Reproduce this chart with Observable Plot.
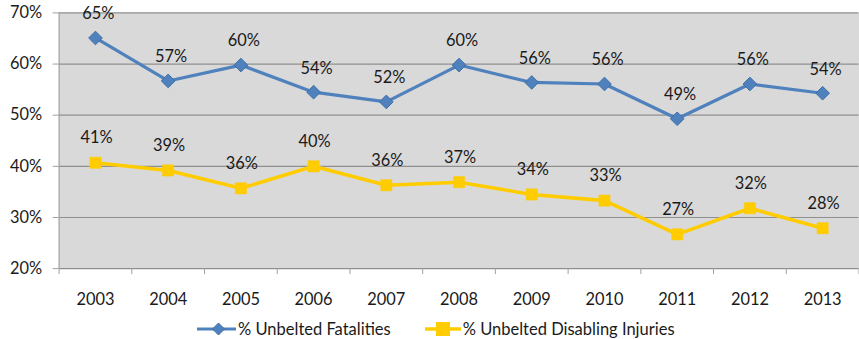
<!DOCTYPE html>
<html>
<head>
<meta charset="utf-8">
<script src="https://cdn.jsdelivr.net/npm/d3@7"></script>
<script src="https://cdn.jsdelivr.net/npm/@observablehq/plot@0.6"></script>
<style>
  html, body { margin: 0; padding: 0; background: #fff; overflow: hidden; }
  #wrap { position: relative; width: 859px; height: 339px; overflow: hidden; font-family: Lato, "Open Sans", sans-serif; }
  #legend { position: absolute; left: 0; top: 317px; height: 24px; display: flex; align-items: center; font-size: 16.5px; color: #1a1a1a; }
  .item { display: flex; align-items: center; }
  .item svg { display: block; }
</style>
</head>
<body>
<div id="wrap"><div id="chart"></div><div id="legend"></div></div>
<script>
const years = [2003, 2004, 2005, 2006, 2007, 2008, 2009, 2010, 2011, 2012, 2013];
const fatalities = [65.1, 56.7, 59.8, 54.5, 52.6, 59.8, 56.4, 56.1, 49.3, 56.1, 54.3];
const injuries = [40.7, 39.2, 35.7, 40.0, 36.3, 36.9, 34.5, 33.3, 26.7, 31.8, 27.9];
const fatalityLabels = ["65%", "57%", "60%", "54%", "52%", "60%", "56%", "56%", "49%", "56%", "54%"];
const injuryLabels = ["41%", "39%", "36%", "40%", "36%", "37%", "34%", "33%", "27%", "32%", "28%"];
const yTicks = [20, 30, 40, 50, 60, 70];
const seriesNames = ["% Unbelted Fatalities", "% Unbelted Disabling Injuries"];

const blue = "#4f81bd", blueDark = "#3d6ea8", yellow = "#ffcc00";
const fs = 16.5;

const fat = years.map((y, i) => ({year: y, value: fatalities[i], label: fatalityLabels[i]}));
const inj = years.map((y, i) => ({year: y, value: injuries[i], label: injuryLabels[i]}));
const boundaries = [years[0] - 0.5, ...years.map(y => y + 0.5)];

const chart = Plot.plot({
  width: 865,
  height: 312,
  marginLeft: 59,
  marginRight: 0.5,
  marginTop: 12.5,
  marginBottom: 42,
  style: {fontFamily: "Lato, 'Open Sans', sans-serif", fontSize: fs + "px", color: "#1a1a1a", background: "#fff"},
  x: {type: "linear", domain: [years[0] - 0.5, years[years.length - 1] + 0.5]},
  y: {domain: [20, 70]},
  marks: [
    Plot.frame({fill: "#d9d9d9", stroke: null}),
    Plot.gridY(yTicks, {stroke: "#8f8f8f", strokeOpacity: 1, strokeWidth: 1.2}),
    Plot.ruleX([years[0] - 0.5], {stroke: "#a0a0a0", strokeWidth: 1.2}),
    Plot.axisY(yTicks, {tickSize: 6, tickPadding: 11, tickFormat: d => d + "%", stroke: "#a0a0a0", label: null, fontSize: fs}),
    Plot.axisX(boundaries, {tickSize: 6, tickFormat: () => "", stroke: "#a0a0a0", label: null}),
    Plot.axisX(years, {tickSize: 0, tickPadding: 25, tickFormat: d => String(d), label: null, fontSize: fs}),
    Plot.line(fat, {x: "year", y: "value", stroke: blue, strokeWidth: 3.2}),
    Plot.dot(fat, {x: "year", y: "value", symbol: "diamond2", r: 6.2, fill: blue, stroke: blueDark, strokeWidth: 1}),
    Plot.line(inj, {x: "year", y: "value", stroke: yellow, strokeWidth: 3.6}),
    Plot.dot(inj, {x: "year", y: "value", symbol: "square2", r: 7.2, fill: yellow, stroke: yellow, strokeWidth: 0.5}),
    Plot.text(fat, {x: "year", y: "value", text: "label", dy: -24, dx: 3, fontSize: fs, fill: "#1a1a1a"}),
    Plot.text(inj, {x: "year", y: "value", text: "label", dy: -25, dx: 1, fontSize: fs, fill: "#1a1a1a"})
  ]
});
document.getElementById("chart").appendChild(chart);

const legend = document.getElementById("legend");
legend.style.paddingLeft = "197px";
const symbols = [
  `<svg width="39" height="16"><line x1="0" y1="8" x2="39" y2="8" stroke="${blue}" stroke-width="3.2"/><path d="M21.5,2 L27.5,8 L21.5,14 L15.5,8 Z" fill="${blue}" stroke="${blueDark}" stroke-width="1"/></svg>`,
  `<svg width="36" height="16"><line x1="0" y1="8" x2="36" y2="8" stroke="${yellow}" stroke-width="3.6"/><rect x="11" y="1" width="14" height="14" fill="${yellow}"/></svg>`
];
seriesNames.forEach((name, i) => {
  const item = document.createElement("div");
  item.className = "item";
  item.style.marginRight = i === 0 ? "34px" : "0";
  item.innerHTML = symbols[i] + `<span style="margin-left:2px">${name}</span>`;
  legend.appendChild(item);
});
</script>
</body>
</html>
